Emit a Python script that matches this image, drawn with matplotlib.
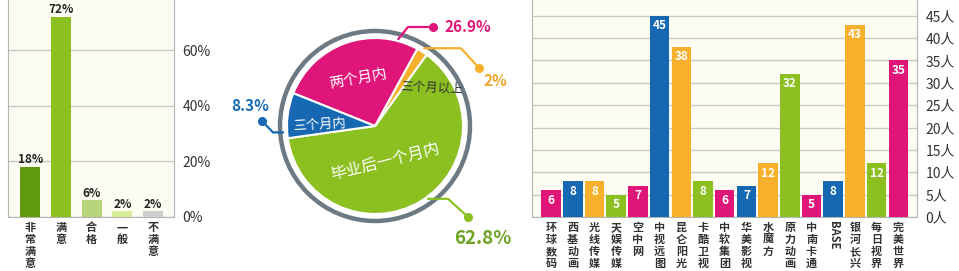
import numpy as np
import matplotlib
matplotlib.use("Agg")
import matplotlib.pyplot as plt
from matplotlib.patches import Circle

plt.rcParams['font.family'] = ['Noto Sans CJK SC', 'DejaVu Sans']

# ---- satisfaction survey (left) ----
sat_labels = ['非常满意', '满意', '合格', '一般', '不满意']
sat_values = [18, 72, 6, 2, 2]
sat_colors = ['#5e9b0f', '#8cc021', '#b6d67b', '#d9ec9c', '#cfcfcf']
sat_ticks = [0, 20, 40, 60]

# ---- time to employment (middle) ----
pie_labels = ['毕业后一个月内', '三个月以上', '两个月内', '三个月内']
pie_values = [62.8, 2, 26.9, 8.3]
pie_colors = ['#8cc021', '#f6b02b', '#e0157a', '#1668b2']
pie_text_colors = ['#6fa324', '#eea52e', '#e0157a', '#1a6db5']

# ---- employers (right) ----
firms = ['环球数码', '西基动画', '光线传媒', '天娱传媒', '空中网', '中视远图', '昆仑阳光',
         '卡酷卫视', '中软集团', '华美影视', '水魔方', '原力动画', '中南卡通', 'BASE',
         '银河长兴', '每日视界', '完美世界']
firm_counts = [6, 8, 8, 5, 7, 45, 38, 8, 6, 7, 12, 32, 5, 8, 43, 12, 35]
firm_ticks = list(range(0, 50, 5))

PINK, BLUE, ORANGE, GREEN = '#e0157a', '#1668b2', '#f6b02b', '#8cc021'
firm_palette = [PINK, BLUE, ORANGE, GREEN]
firm_colors = [firm_palette[i % 4] for i in range(len(firms))]

W, H = 959, 271
fig = plt.figure(figsize=(W / 100, H / 100), dpi=100)

GRID = '#c9c9c9'
SPINE = '#b4b4b4'
BG = '#fdfcf2'
TXT = '#333333'
LAB_SIZE = 8
LAB_SPACING = 0.90


def stack(s):
    return s if s.isascii() else '\n'.join(s)


def px_axes(x0, y0, x1, y1):
    return fig.add_axes([x0 / W, 1 - y1 / H, (x1 - x0) / W, (y1 - y0) / H])


# ================= left bar chart =================
ax1 = px_axes(8, 0, 174, 217)
ax1.set_facecolor(BG)
x = np.arange(len(sat_labels))
ax1.bar(x, sat_values, width=0.65, color=sat_colors, zorder=3)
for xi, v in zip(x, sat_values):
    ax1.annotate(f'{v}%', (xi, v), xytext=(0, 0.5), textcoords='offset points',
                 ha='center', va='bottom', fontsize=8.5, fontweight='bold',
                 color='#222222', zorder=4)
ax1.set_xlim(-0.72, 4.68)
ax1.set_ylim(0, 78)
ax1.set_yticks(sat_ticks)
ax1.set_yticklabels([f'{t}%' for t in sat_ticks])
ax1.yaxis.tick_right()
ax1.tick_params(axis='y', length=0, pad=6, labelsize=10, labelcolor=TXT)
ax1.set_xticks(x)
ax1.set_xticklabels([stack(s) for s in sat_labels], fontsize=LAB_SIZE,
                    fontweight='bold', color=TXT, linespacing=LAB_SPACING)
ax1.tick_params(axis='x', length=0, pad=3)
ax1.grid(axis='y', color=GRID, linewidth=1, zorder=0)
ax1.spines['top'].set_visible(False)
for s in ['left', 'right', 'bottom']:
    ax1.spines[s].set_color(SPINE)

# ================= middle pie chart =================
ax2 = px_axes(225, 0, 525, 252)
wedges, _ = ax2.pie(pie_values, colors=pie_colors, startangle=188, radius=0.88,
                    counterclock=True,
                    wedgeprops=dict(edgecolor='white', linewidth=1.5))
ax2.add_patch(Circle((0, 0), 0.95, fill=False, edgecolor='#6d7a84', linewidth=3.2))
ax2.set_aspect('equal')
ax2.set_xlim(-1.5, 1.5)
ax2.set_ylim(-1.26, 1.26)
ax2.axis('off')


def polar(r, deg):
    return r * np.cos(np.radians(deg)), r * np.sin(np.radians(deg))


mid = [(w.theta1 + w.theta2) / 2 for w in wedges]

# slice names
gx, gy = polar(0.42, mid[0])
ax2.text(gx - 0.12, gy, pie_labels[0], color='white', fontsize=11.5,
         ha='center', va='center', rotation=14)
ax2.text(0.57, 0.38, pie_labels[1], color='#333333', fontsize=9,
         ha='center', va='center', rotation=-3)
px, py = polar(0.5, mid[2])
ax2.text(px, py, pie_labels[2], color='white', fontsize=10.5,
         ha='center', va='center', rotation=10)
bx, by = polar(0.56, mid[3])
ax2.text(bx, by - 0.06, pie_labels[3], color='white', fontsize=9.5,
         ha='center', va='center', rotation=3)


# callout leaders
def leader(pts, color):
    xs, ys = zip(*pts)
    ax2.plot(xs, ys, color=color, linewidth=1.6, solid_capstyle='round', zorder=5)
    ax2.plot(xs[-1], ys[-1], 'o', color=color, markersize=5.5, zorder=6)


# green
g0 = polar(0.9, -54)
leader([g0, (0.73, g0[1]), (0.93, -0.91)], pie_colors[0])
ax2.text(1.08, -1.12, f'{pie_values[0]}%', color=pie_text_colors[0], fontsize=13.5,
         fontweight='bold', ha='center', va='center')
# orange
o0 = polar(0.92, mid[1])
leader([o0, (0.86, o0[1]), (1.04, 0.58)], pie_colors[1])
ax2.text(1.2, 0.45, f'{pie_values[1]:g}%', color=pie_text_colors[1], fontsize=11,
         fontweight='bold', ha='center', va='center')
# pink
p0 = polar(0.9, 75)
leader([p0, (0.33, 0.99), (0.58, 0.99)], pie_colors[2])
ax2.text(0.70, 0.99, f'{pie_values[2]}%', color=pie_text_colors[2], fontsize=11,
         fontweight='bold', ha='left', va='center')
# blue
b0 = polar(0.92, 184)
leader([b0, (-1.02, b0[1]), (-1.13, 0.05)], pie_colors[3])
ax2.text(-1.25, 0.2, f'{pie_values[3]}%', color=pie_text_colors[3], fontsize=11,
         fontweight='bold', ha='center', va='center')

# ================= right bar chart =================
ax3 = px_axes(532, 0, 917, 217)
ax3.set_facecolor(BG)
xf = np.arange(len(firms))
ax3.bar(xf, firm_counts, width=0.9, color=firm_colors, zorder=3)
for xi, v in zip(xf, firm_counts):
    ax3.annotate(str(v), (xi, v), xytext=(0, -2.5), textcoords='offset points',
                 ha='center', va='top', fontsize=8.5, fontweight='bold',
                 color='white', zorder=4)
ax3.set_xlim(-0.88, len(firms) - 1 + 0.86)
ax3.set_ylim(0, 48.5)
ax3.set_yticks(firm_ticks)
ax3.set_yticklabels([f'{t}人' for t in firm_ticks])
ax3.yaxis.tick_right()
ax3.tick_params(axis='y', length=0, pad=6, labelsize=10, labelcolor=TXT)
ax3.set_xticks(xf)
ax3.set_xticklabels([stack(s) for s in firms], fontsize=LAB_SIZE,
                    fontweight='bold', color=TXT, linespacing=LAB_SPACING)
for lab, name in zip(ax3.get_xticklabels(), firms):
    if name.isascii():
        lab.set_rotation(270)
ax3.tick_params(axis='x', length=0, pad=3)
ax3.grid(axis='y', color=GRID, linewidth=1, zorder=0)
ax3.spines['top'].set_visible(False)
for s in ['left', 'right', 'bottom']:
    ax3.spines[s].set_color(SPINE)

fig.savefig('out.png', dpi=100)
